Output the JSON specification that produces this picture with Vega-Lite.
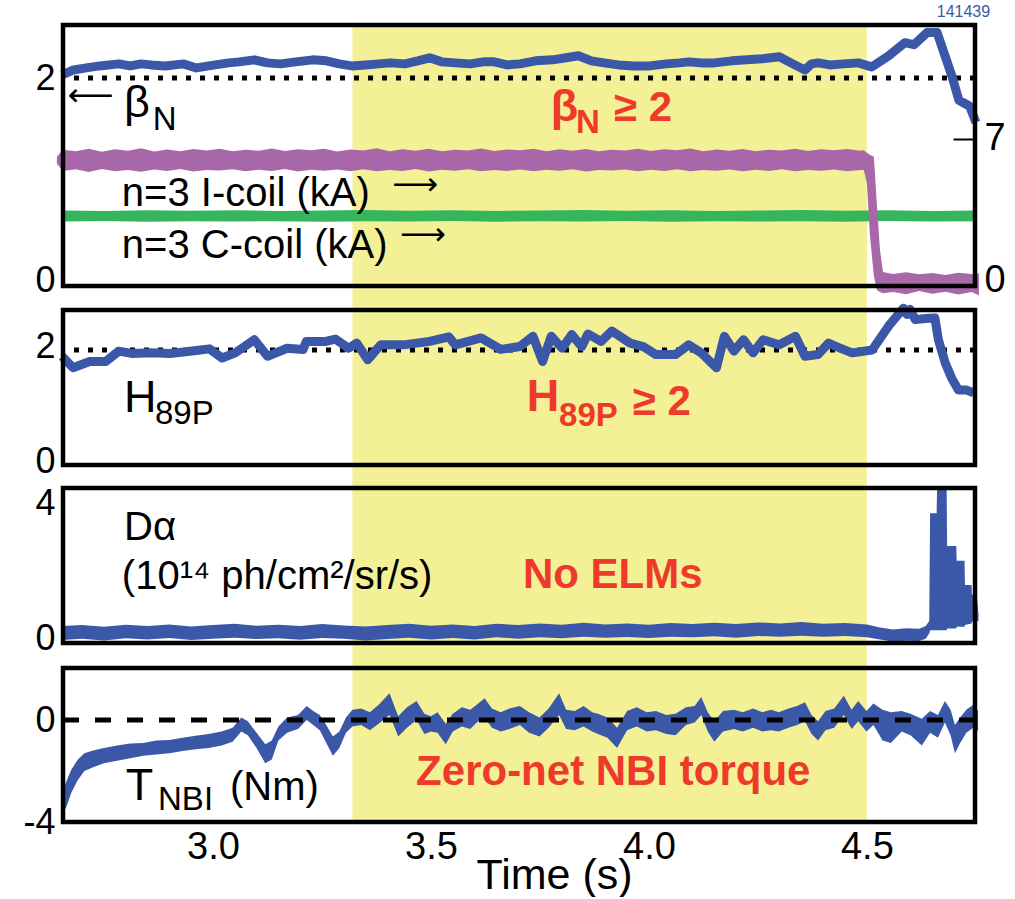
{
"$schema": "https://vega.github.io/schema/vega-lite/v6.json",
"background": "white",
"padding": {"left": 22, "top": 3, "right": 5, "bottom": 0},
"spacing": 0,
"bounds": "flush",
"title": {"text": "141439", "anchor": "end", "fontSize": 16, "font": "Liberation Sans", "fontWeight": "normal", "color": "#3b58a8", "offset": 3, "dx": -15},
"config": {
  "view": {"stroke": null},
  "font": "Liberation Sans",
  "axis": {"domain": false, "ticks": false, "grid": false, "labelFont": "Liberation Sans", "labelFontSize": 36, "labelColor": "black", "labelPadding": 8, "titleFont": "Liberation Sans", "titleFontSize": 43, "titleFontWeight": "normal", "titleColor": "black"}
},
"datasets": {
  "band": [{"a": 3.32, "b": 4.5}],
  "bn": [
    {"t":2.654,"v":2.03},{"t":2.680,"v":2.08},{"t":2.709,"v":2.10},{"t":2.740,"v":2.12},{"t":2.784,"v":2.14},{"t":2.810,"v":2.12},{"t":2.835,"v":2.14},{"t":2.858,"v":2.13},{"t":2.890,"v":2.12},{"t":2.932,"v":2.14},{"t":2.962,"v":2.10},{"t":2.990,"v":2.12},{"t":3.036,"v":2.15},{"t":3.060,"v":2.16},{"t":3.095,"v":2.18},{"t":3.125,"v":2.15},{"t":3.155,"v":2.14},{"t":3.190,"v":2.16},{"t":3.229,"v":2.18},{"t":3.260,"v":2.17},{"t":3.290,"v":2.14},{"t":3.318,"v":2.12},{"t":3.350,"v":2.13},{"t":3.380,"v":2.14},{"t":3.407,"v":2.15},{"t":3.440,"v":2.14},{"t":3.470,"v":2.17},{"t":3.497,"v":2.20},{"t":3.525,"v":2.16},{"t":3.556,"v":2.15},{"t":3.590,"v":2.14},{"t":3.620,"v":2.16},{"t":3.645,"v":2.16},{"t":3.675,"v":2.13},{"t":3.704,"v":2.14},{"t":3.740,"v":2.17},{"t":3.779,"v":2.18},{"t":3.810,"v":2.20},{"t":3.838,"v":2.22},{"t":3.868,"v":2.17},{"t":3.897,"v":2.15},{"t":3.930,"v":2.13},{"t":3.965,"v":2.12},{"t":4.002,"v":2.12},{"t":4.040,"v":2.14},{"t":4.070,"v":2.15},{"t":4.091,"v":2.16},{"t":4.120,"v":2.15},{"t":4.150,"v":2.15},{"t":4.190,"v":2.17},{"t":4.224,"v":2.18},{"t":4.260,"v":2.19},{"t":4.299,"v":2.21},{"t":4.330,"v":2.14},{"t":4.358,"v":2.08},{"t":4.373,"v":2.14},{"t":4.388,"v":2.15},{"t":4.415,"v":2.13},{"t":4.447,"v":2.14},{"t":4.480,"v":2.15},{"t":4.511,"v":2.11},{"t":4.550,"v":2.22},{"t":4.587,"v":2.35},{"t":4.608,"v":2.33},{"t":4.638,"v":2.45},{"t":4.661,"v":2.45},{"t":4.695,"v":2.02},{"t":4.711,"v":1.78},{"t":4.736,"v":1.72},{"t":4.750,"v":1.56}
  ],
  "coil": [
    {"c":"C","t":2.656,"hi":3.44,"lo":2.90},{"c":"C","t":2.75,"hi":3.42,"lo":2.92},{"c":"C","t":2.85,"hi":3.45,"lo":2.89},{"c":"C","t":2.95,"hi":3.43,"lo":2.91},{"c":"C","t":3.05,"hi":3.45,"lo":2.90},{"c":"C","t":3.15,"hi":3.42,"lo":2.91},{"c":"C","t":3.25,"hi":3.44,"lo":2.89},{"c":"C","t":3.35,"hi":3.46,"lo":2.91},{"c":"C","t":3.45,"hi":3.43,"lo":2.90},{"c":"C","t":3.55,"hi":3.45,"lo":2.92},{"c":"C","t":3.65,"hi":3.42,"lo":2.89},{"c":"C","t":3.75,"hi":3.44,"lo":2.91},{"c":"C","t":3.85,"hi":3.46,"lo":2.90},{"c":"C","t":3.95,"hi":3.43,"lo":2.92},{"c":"C","t":4.05,"hi":3.45,"lo":2.89},{"c":"C","t":4.15,"hi":3.42,"lo":2.91},{"c":"C","t":4.25,"hi":3.44,"lo":2.90},{"c":"C","t":4.35,"hi":3.46,"lo":2.91},{"c":"C","t":4.45,"hi":3.43,"lo":2.89},{"c":"C","t":4.55,"hi":3.45,"lo":2.92},{"c":"C","t":4.65,"hi":3.42,"lo":2.90},{"c":"C","t":4.746,"hi":3.44,"lo":2.91},
    {"c":"I","t":2.642,"hi":6.10,"lo":5.75},{"c":"I","t":2.656,"hi":6.45,"lo":5.40},{"c":"I","t":2.685,"hi":6.38,"lo":5.48},{"c":"I","t":2.715,"hi":6.50,"lo":5.35},{"c":"I","t":2.745,"hi":6.35,"lo":5.50},{"c":"I","t":2.775,"hi":6.47,"lo":5.38},{"c":"I","t":2.805,"hi":6.40,"lo":5.45},{"c":"I","t":2.835,"hi":6.52,"lo":5.36},{"c":"I","t":2.865,"hi":6.36,"lo":5.47},{"c":"I","t":2.895,"hi":6.46,"lo":5.40},{"c":"I","t":2.925,"hi":6.38,"lo":5.50},{"c":"I","t":2.955,"hi":6.49,"lo":5.37},{"c":"I","t":2.985,"hi":6.41,"lo":5.45},{"c":"I","t":3.015,"hi":6.50,"lo":5.42},{"c":"I","t":3.045,"hi":6.37,"lo":5.48},{"c":"I","t":3.075,"hi":6.45,"lo":5.38},{"c":"I","t":3.105,"hi":6.40,"lo":5.46},{"c":"I","t":3.135,"hi":6.51,"lo":5.40},{"c":"I","t":3.165,"hi":6.39,"lo":5.49},{"c":"I","t":3.195,"hi":6.47,"lo":5.37},{"c":"I","t":3.225,"hi":6.42,"lo":5.46},{"c":"I","t":3.255,"hi":6.50,"lo":5.41},{"c":"I","t":3.285,"hi":6.36,"lo":5.47},{"c":"I","t":3.315,"hi":6.46,"lo":5.39},{"c":"I","t":3.345,"hi":6.41,"lo":5.48},{"c":"I","t":3.375,"hi":6.52,"lo":5.38},{"c":"I","t":3.405,"hi":6.38,"lo":5.45},{"c":"I","t":3.435,"hi":6.47,"lo":5.40},{"c":"I","t":3.465,"hi":6.40,"lo":5.49},{"c":"I","t":3.495,"hi":6.50,"lo":5.37},{"c":"I","t":3.525,"hi":6.37,"lo":5.46},{"c":"I","t":3.555,"hi":6.45,"lo":5.41},{"c":"I","t":3.585,"hi":6.41,"lo":5.48},{"c":"I","t":3.615,"hi":6.51,"lo":5.38},{"c":"I","t":3.645,"hi":6.39,"lo":5.45},{"c":"I","t":3.675,"hi":6.46,"lo":5.40},{"c":"I","t":3.705,"hi":6.42,"lo":5.47},{"c":"I","t":3.735,"hi":6.50,"lo":5.39},{"c":"I","t":3.765,"hi":6.38,"lo":5.46},{"c":"I","t":3.795,"hi":6.47,"lo":5.41},{"c":"I","t":3.825,"hi":6.40,"lo":5.48},{"c":"I","t":3.855,"hi":6.49,"lo":5.37},{"c":"I","t":3.885,"hi":6.37,"lo":5.45},{"c":"I","t":3.915,"hi":6.45,"lo":5.42},{"c":"I","t":3.945,"hi":6.41,"lo":5.47},{"c":"I","t":3.975,"hi":6.50,"lo":5.39},{"c":"I","t":4.005,"hi":6.39,"lo":5.46},{"c":"I","t":4.035,"hi":6.47,"lo":5.40},{"c":"I","t":4.065,"hi":6.42,"lo":5.48},{"c":"I","t":4.095,"hi":6.51,"lo":5.38},{"c":"I","t":4.125,"hi":6.38,"lo":5.45},{"c":"I","t":4.155,"hi":6.46,"lo":5.41},{"c":"I","t":4.185,"hi":6.40,"lo":5.47},{"c":"I","t":4.215,"hi":6.49,"lo":5.39},{"c":"I","t":4.245,"hi":6.37,"lo":5.46},{"c":"I","t":4.275,"hi":6.45,"lo":5.40},{"c":"I","t":4.305,"hi":6.41,"lo":5.48},{"c":"I","t":4.335,"hi":6.50,"lo":5.38},{"c":"I","t":4.365,"hi":6.39,"lo":5.45},{"c":"I","t":4.395,"hi":6.47,"lo":5.41},{"c":"I","t":4.425,"hi":6.42,"lo":5.47},{"c":"I","t":4.455,"hi":6.49,"lo":5.39},{"c":"I","t":4.485,"hi":6.40,"lo":5.45},{"c":"I","t":4.493,"hi":6.42,"lo":5.45},{"c":"I","t":4.500,"hi":6.30,"lo":4.80},{"c":"I","t":4.507,"hi":6.20,"lo":2.20},{"c":"I","t":4.516,"hi":6.10,"lo":0.20},{"c":"I","t":4.523,"hi":3.70,"lo":-0.50},{"c":"I","t":4.530,"hi":1.50,"lo":-0.60},{"c":"I","t":4.537,"hi":0.40,"lo":-0.65},{"c":"I","t":4.560,"hi":0.30,"lo":-0.60},{"c":"I","t":4.590,"hi":0.38,"lo":-0.70},{"c":"I","t":4.620,"hi":0.28,"lo":-0.55},{"c":"I","t":4.650,"hi":0.35,"lo":-0.68},{"c":"I","t":4.680,"hi":0.25,"lo":-0.58},{"c":"I","t":4.710,"hi":0.36,"lo":-0.72},{"c":"I","t":4.740,"hi":0.30,"lo":-0.60},{"c":"I","t":4.757,"hi":0.33,"lo":-0.75}
  ],
  "h89": [
    {"t":2.654,"v":1.89},{"t":2.679,"v":1.69},{"t":2.717,"v":1.80},{"t":2.754,"v":1.80},{"t":2.784,"v":1.98},{"t":2.813,"v":1.94},{"t":2.858,"v":1.95},{"t":2.902,"v":1.94},{"t":2.962,"v":1.99},{"t":2.992,"v":2.02},{"t":3.021,"v":1.86},{"t":3.051,"v":1.95},{"t":3.095,"v":2.18},{"t":3.125,"v":1.89},{"t":3.170,"v":2.03},{"t":3.207,"v":2.01},{"t":3.214,"v":2.15},{"t":3.259,"v":2.15},{"t":3.281,"v":2.19},{"t":3.311,"v":2.03},{"t":3.330,"v":2.12},{"t":3.355,"v":1.83},{"t":3.385,"v":2.09},{"t":3.437,"v":2.09},{"t":3.497,"v":2.15},{"t":3.541,"v":2.23},{"t":3.556,"v":2.09},{"t":3.615,"v":2.21},{"t":3.660,"v":2.01},{"t":3.704,"v":2.06},{"t":3.734,"v":2.24},{"t":3.756,"v":1.80},{"t":3.776,"v":2.24},{"t":3.801,"v":2.03},{"t":3.823,"v":2.27},{"t":3.846,"v":2.06},{"t":3.860,"v":2.28},{"t":3.890,"v":2.15},{"t":3.915,"v":2.33},{"t":3.957,"v":2.12},{"t":3.987,"v":2.06},{"t":4.016,"v":1.92},{"t":4.061,"v":1.92},{"t":4.091,"v":2.09},{"t":4.120,"v":1.95},{"t":4.155,"v":1.69},{"t":4.173,"v":2.24},{"t":4.195,"v":1.98},{"t":4.217,"v":2.18},{"t":4.239,"v":1.95},{"t":4.262,"v":2.18},{"t":4.299,"v":2.09},{"t":4.336,"v":2.24},{"t":4.358,"v":1.89},{"t":4.388,"v":1.92},{"t":4.412,"v":2.12},{"t":4.430,"v":2.06},{"t":4.466,"v":1.95},{"t":4.512,"v":2.00},{"t":4.550,"v":2.42},{"t":4.584,"v":2.73},{"t":4.592,"v":2.62},{"t":4.599,"v":2.71},{"t":4.611,"v":2.53},{"t":4.635,"v":2.55},{"t":4.656,"v":2.56},{"t":4.664,"v":2.18},{"t":4.680,"v":1.77},{"t":4.695,"v":1.50},{"t":4.710,"v":1.30},{"t":4.729,"v":1.30},{"t":4.745,"v":1.25}
  ],
  "da": [
    {"t":2.654,"hi":0.32,"lo":-0.09},{"t":2.70,"hi":0.35,"lo":-0.05},{"t":2.75,"hi":0.30,"lo":-0.10},{"t":2.80,"hi":0.36,"lo":-0.04},{"t":2.85,"hi":0.32,"lo":-0.07},{"t":2.90,"hi":0.37,"lo":-0.03},{"t":2.95,"hi":0.31,"lo":-0.09},{"t":3.00,"hi":0.35,"lo":-0.05},{"t":3.05,"hi":0.39,"lo":-0.02},{"t":3.10,"hi":0.33,"lo":-0.06},{"t":3.15,"hi":0.36,"lo":-0.04},{"t":3.20,"hi":0.32,"lo":-0.08},{"t":3.25,"hi":0.38,"lo":-0.03},{"t":3.30,"hi":0.34,"lo":-0.05},{"t":3.35,"hi":0.31,"lo":-0.10},{"t":3.40,"hi":0.35,"lo":-0.06},{"t":3.45,"hi":0.39,"lo":-0.02},{"t":3.50,"hi":0.33,"lo":-0.07},{"t":3.55,"hi":0.37,"lo":-0.03},{"t":3.60,"hi":0.32,"lo":-0.07},{"t":3.65,"hi":0.39,"lo":-0.01},{"t":3.70,"hi":0.35,"lo":-0.05},{"t":3.75,"hi":0.40,"lo":-0.01},{"t":3.80,"hi":0.36,"lo":-0.04},{"t":3.85,"hi":0.42,"lo":0.01},{"t":3.90,"hi":0.37,"lo":-0.02},{"t":3.95,"hi":0.40,"lo":0.00},{"t":4.00,"hi":0.36,"lo":-0.03},{"t":4.05,"hi":0.41,"lo":0.01},{"t":4.10,"hi":0.38,"lo":-0.01},{"t":4.15,"hi":0.42,"lo":0.02},{"t":4.20,"hi":0.38,"lo":-0.02},{"t":4.25,"hi":0.43,"lo":0.03},{"t":4.30,"hi":0.40,"lo":0.01},{"t":4.35,"hi":0.44,"lo":0.04},{"t":4.40,"hi":0.39,"lo":0.01},{"t":4.45,"hi":0.41,"lo":0.03},{"t":4.50,"hi":0.37,"lo":-0.01},{"t":4.53,"hi":0.28,"lo":-0.07},{"t":4.56,"hi":0.22,"lo":-0.13},{"t":4.59,"hi":0.26,"lo":-0.11},{"t":4.62,"hi":0.24,"lo":-0.12},{"t":4.635,"hi":0.32,"lo":-0.05},{"t":4.643,"hi":0.47,"lo":0.10},{"t":4.645,"hi":3.64,"lo":0.20},{"t":4.660,"hi":3.64,"lo":0.20},{"t":4.661,"hi":4.38,"lo":0.20},{"t":4.683,"hi":4.38,"lo":0.20},{"t":4.684,"hi":2.68,"lo":0.25},{"t":4.705,"hi":2.68,"lo":0.25},{"t":4.706,"hi":2.24,"lo":0.30},{"t":4.724,"hi":2.24,"lo":0.30},{"t":4.725,"hi":1.53,"lo":0.35},{"t":4.740,"hi":1.53,"lo":0.40},{"t":4.741,"hi":1.24,"lo":0.45},{"t":4.752,"hi":1.24,"lo":0.50},{"t":4.756,"hi":0.66,"lo":0.45}
  ],
  "tq": [
    {"t":2.656,"hi":-2.75,"lo":-3.70},{"t":2.665,"hi":-2.35,"lo":-3.35},{"t":2.675,"hi":-1.95,"lo":-2.85},{"t":2.690,"hi":-1.55,"lo":-2.35},{"t":2.705,"hi":-1.30,"lo":-2.00},{"t":2.725,"hi":-1.20,"lo":-1.85},{"t":2.750,"hi":-1.10,"lo":-1.70},{"t":2.780,"hi":-1.00,"lo":-1.60},{"t":2.810,"hi":-0.92,"lo":-1.50},{"t":2.840,"hi":-0.90,"lo":-1.40},{"t":2.870,"hi":-0.80,"lo":-1.35},{"t":2.900,"hi":-0.78,"lo":-1.30},{"t":2.930,"hi":-0.70,"lo":-1.22},{"t":2.960,"hi":-0.62,"lo":-1.15},{"t":2.990,"hi":-0.55,"lo":-1.10},{"t":3.020,"hi":-0.45,"lo":-1.00},{"t":3.045,"hi":-0.30,"lo":-0.85},{"t":3.065,"hi":0.10,"lo":-0.45},{"t":3.080,"hi":-0.05,"lo":-0.60},{"t":3.100,"hi":-0.50,"lo":-1.10},{"t":3.120,"hi":-0.95,"lo":-1.70},{"t":3.135,"hi":-0.80,"lo":-1.55},{"t":3.150,"hi":-0.25,"lo":-0.80},{"t":3.170,"hi":0.10,"lo":-0.50},{"t":3.195,"hi":0.20,"lo":-0.35},{"t":3.215,"hi":0.55,"lo":0.00},{"t":3.230,"hi":0.35,"lo":-0.20},{"t":3.245,"hi":0.20,"lo":-0.40},{"t":3.260,"hi":-0.20,"lo":-0.90},{"t":3.275,"hi":-0.65,"lo":-1.40},{"t":3.290,"hi":-0.45,"lo":-1.10},{"t":3.305,"hi":0.10,"lo":-0.50},
    {"t":3.320,"hi":0.40,"lo":-0.25},{"t":3.340,"hi":0.45,"lo":-0.20},{"t":3.360,"hi":0.30,"lo":-0.40},{"t":3.380,"hi":0.60,"lo":-0.15},{"t":3.405,"hi":1.05,"lo":0.20},{"t":3.425,"hi":0.15,"lo":-0.65},{"t":3.445,"hi":0.50,"lo":-0.30},{"t":3.467,"hi":0.75,"lo":0.00},{"t":3.485,"hi":0.25,"lo":-0.55},{"t":3.500,"hi":0.15,"lo":-0.45},{"t":3.515,"hi":0.30,"lo":-0.50},{"t":3.534,"hi":-0.15,"lo":-0.95},{"t":3.550,"hi":0.25,"lo":-0.45},{"t":3.571,"hi":0.50,"lo":-0.25},{"t":3.590,"hi":0.40,"lo":-0.35},{"t":3.605,"hi":0.60,"lo":-0.10},{"t":3.623,"hi":0.85,"lo":0.10},{"t":3.640,"hi":0.45,"lo":-0.30},{"t":3.660,"hi":0.30,"lo":-0.45},{"t":3.680,"hi":0.45,"lo":-0.35},{"t":3.704,"hi":0.55,"lo":-0.20},{"t":3.725,"hi":0.30,"lo":-0.50},{"t":3.749,"hi":0.10,"lo":-0.65},{"t":3.770,"hi":0.45,"lo":-0.30},{"t":3.794,"hi":1.05,"lo":0.20},{"t":3.810,"hi":0.40,"lo":-0.35},{"t":3.830,"hi":0.35,"lo":-0.40},{"t":3.850,"hi":0.55,"lo":-0.25},{"t":3.870,"hi":0.30,"lo":-0.45},{"t":3.883,"hi":0.25,"lo":-0.55},{"t":3.905,"hi":0.10,"lo":-0.70},{"t":3.927,"hi":-0.30,"lo":-1.10},{"t":3.950,"hi":0.35,"lo":-0.40},{"t":3.972,"hi":0.50,"lo":-0.25},{"t":3.995,"hi":0.30,"lo":-0.45},{"t":4.016,"hi":0.35,"lo":-0.40},{"t":4.040,"hi":0.20,"lo":-0.55},{"t":4.061,"hi":0.25,"lo":-0.60},{"t":4.085,"hi":0.50,"lo":-0.20},{"t":4.105,"hi":0.55,"lo":-0.10},{"t":4.120,"hi":0.90,"lo":0.20},{"t":4.135,"hi":0.30,"lo":-0.45},{"t":4.150,"hi":-0.05,"lo":-0.85},{"t":4.170,"hi":0.35,"lo":-0.45},{"t":4.195,"hi":0.40,"lo":-0.35},{"t":4.215,"hi":0.30,"lo":-0.45},{"t":4.239,"hi":0.45,"lo":-0.30},{"t":4.260,"hi":0.30,"lo":-0.45},{"t":4.280,"hi":0.40,"lo":-0.40},{"t":4.298,"hi":0.30,"lo":-0.45},{"t":4.320,"hi":0.45,"lo":-0.30},{"t":4.340,"hi":0.55,"lo":-0.20},{"t":4.358,"hi":0.70,"lo":-0.05},{"t":4.373,"hi":0.20,"lo":-0.55},{"t":4.388,"hi":-0.05,"lo":-0.80},{"t":4.405,"hi":0.35,"lo":-0.40},{"t":4.425,"hi":0.45,"lo":-0.30},{"t":4.447,"hi":0.95,"lo":0.20},{"t":4.465,"hi":0.40,"lo":-0.35},{"t":4.480,"hi":0.75,"lo":-0.05},{"t":4.499,"hi":0.35,"lo":-0.45},{"t":4.515,"hi":0.65,"lo":-0.20},{"t":4.536,"hi":0.40,"lo":-0.80},{"t":4.555,"hi":0.30,"lo":-0.90},{"t":4.580,"hi":0.35,"lo":-0.45},{"t":4.600,"hi":0.25,"lo":-0.60},{"t":4.626,"hi":0.05,"lo":-1.00},{"t":4.645,"hi":0.35,"lo":-0.50},{"t":4.663,"hi":0.20,"lo":-0.70},{"t":4.679,"hi":0.75,"lo":-0.10},{"t":4.692,"hi":0.40,"lo":-0.60},{"t":4.702,"hi":-0.20,"lo":-1.30},{"t":4.714,"hi":0.10,"lo":-0.90},{"t":4.728,"hi":0.40,"lo":-0.50},{"t":4.744,"hi":0.60,"lo":-0.30},{"t":4.755,"hi":0.35,"lo":-0.43}
  ],
  "notes": [
    {"p":1,"s":"k","t":2.791,"v":0.733,"text":"n=3 I-coil (kA)"},
    {"p":1,"s":"k","t":2.791,"v":0.218,"text":"n=3 C-coil (kA)"},
    {"p":1,"s":"kb","t":2.796,"v":1.614,"text":"β"},
    {"p":1,"s":"ks","t":2.862,"v":1.485,"text":"N"},
    {"p":1,"s":"ar","t":2.667,"v":1.822,"text":"⟵"},
    {"p":1,"s":"ar","t":3.411,"v":0.94,"text":"⟶"},
    {"p":1,"s":"ar","t":3.429,"v":0.446,"text":"⟶"},
    {"p":1,"s":"rb","t":3.775,"v":1.574,"text":"β"},
    {"p":1,"s":"rs","t":3.833,"v":1.455,"text":"N"},
    {"p":1,"s":"r","t":3.920,"v":1.574,"text":"≥ 2"},
    {"p":2,"s":"kb","t":2.796,"v":0.917,"text":"H"},
    {"p":2,"s":"ks","t":2.867,"v":0.707,"text":"89P"},
    {"p":2,"s":"rb","t":3.720,"v":0.934,"text":"H"},
    {"p":2,"s":"rs","t":3.794,"v":0.672,"text":"89P"},
    {"p":2,"s":"r","t":3.963,"v":0.865,"text":"≥ 2"},
    {"p":3,"s":"k","t":2.796,"v":2.85,"text":"Dα"},
    {"p":3,"s":"k","t":2.791,"v":1.41,"text":"(10¹⁴ ph/cm²/sr/s)"},
    {"p":3,"s":"r","t":3.711,"v":1.44,"text":"No ELMs"},
    {"p":4,"s":"kb","t":2.800,"v":-3.137,"text":"T"},
    {"p":4,"s":"ks","t":2.874,"v":-3.529,"text":"NBI"},
    {"p":4,"s":"k","t":3.039,"v":-3.137,"text":"(Nm)"},
    {"p":4,"s":"r","t":3.466,"v":-2.549,"text":"Zero-net NBI torque"}
  ]
},
"vconcat": [
  {
    "width": 912, "height": 273,
    "resolve": {"scale": {"y": "independent"}, "axis": {"y": "independent"}},
    "layer": [
      {"layer": [
        {"data": {"name": "band"}, "mark": {"type": "rect", "color": "#f3f096"},
         "encoding": {"x": {"field": "a", "type": "quantitative", "scale": {"domain": [2.656, 4.748], "nice": false, "zero": false}, "axis": null}, "x2": {"field": "b"}}},
        {"data": {"values": [{}]}, "mark": {"type": "rule", "color": "black", "strokeWidth": 5, "strokeDash": [5, 9]},
         "encoding": {"y": {"datum": 2, "type": "quantitative", "scale": {"domain": [-0.178, 2.525], "nice": false, "zero": false}, "axis": {"orient": "left", "values": [0, 2], "title": null}}}},
        {"data": {"name": "bn"}, "mark": {"type": "line", "color": "#3b58a8", "strokeWidth": 9, "strokeJoin": "round"},
         "encoding": {"x": {"field": "t", "type": "quantitative", "scale": {"domain": [2.656, 4.748], "nice": false, "zero": false}, "axis": null},
                      "y": {"field": "v", "type": "quantitative", "scale": {"domain": [-0.178, 2.525], "nice": false, "zero": false}, "axis": {"orient": "left", "values": [0, 2], "title": null}}}}
      ]},
      {"data": {"name": "coil"}, "layer": [
        {"transform": [{"filter": "datum.c == 'C'"}], "mark": {"type": "area", "color": "#35b55c", "opacity": 1},
         "encoding": {"x": {"field": "t", "type": "quantitative", "scale": {"domain": [2.656, 4.748], "nice": false, "zero": false}, "axis": null},
                      "y": {"field": "hi", "type": "quantitative", "scale": {"domain": [-0.891, 12.624], "nice": false, "zero": false}, "axis": {"orient": "right", "values": [0, 7], "title": null, "ticks": true, "tickSize": -22, "tickWidth": 2, "tickColor": "black", "labelPadding": 31, "labelFontSize": 38}},
                      "y2": {"field": "lo"}}},
        {"transform": [{"filter": "datum.c == 'I'"}], "mark": {"type": "area", "color": "#a867a8", "opacity": 1},
         "encoding": {"x": {"field": "t", "type": "quantitative", "scale": {"domain": [2.656, 4.748], "nice": false, "zero": false}, "axis": null},
                      "y": {"field": "hi", "type": "quantitative", "scale": {"domain": [-0.891, 12.624], "nice": false, "zero": false}, "axis": {"orient": "right", "values": [0, 7], "title": null, "ticks": true, "tickSize": -22, "tickWidth": 2, "tickColor": "black", "labelPadding": 31, "labelFontSize": 38}},
                      "y2": {"field": "lo"}}}
      ]},
      {"data": {"values": [{}]}, "mark": {"type": "rect", "fill": "transparent", "stroke": "black", "strokeWidth": 4.5},
       "encoding": {"x": {"datum": 2.656, "type": "quantitative", "scale": {"domain": [2.656, 4.748], "nice": false, "zero": false}, "axis": null}, "x2": {"datum": 4.748},
                    "y": {"datum": -0.059, "type": "quantitative", "scale": {"domain": [-0.178, 2.525], "nice": false, "zero": false}, "axis": null}, "y2": {"datum": 2.525}}},
      {"data": {"name": "notes"},
       "encoding": {"x": {"field": "t", "type": "quantitative", "scale": {"domain": [2.656, 4.748], "nice": false, "zero": false}, "axis": null},
                    "y": {"field": "v", "type": "quantitative", "scale": {"domain": [-0.178, 2.525], "nice": false, "zero": false}, "axis": null},
                    "text": {"field": "text"}},
       "layer": [
        {"transform": [{"filter": "datum.p == 1 && datum.s == 'k'"}], "mark": {"type": "text", "align": "left", "baseline": "alphabetic", "color": "black", "fontSize": 40}},
        {"transform": [{"filter": "datum.p == 1 && datum.s == 'kb'"}], "mark": {"type": "text", "align": "left", "baseline": "alphabetic", "color": "black", "fontSize": 45}},
        {"transform": [{"filter": "datum.p == 1 && datum.s == 'ks'"}], "mark": {"type": "text", "align": "left", "baseline": "alphabetic", "color": "black", "fontSize": 33}},
        {"transform": [{"filter": "datum.p == 1 && datum.s == 'r'"}], "mark": {"type": "text", "align": "left", "baseline": "alphabetic", "color": "#ee3a2a", "fontWeight": "bold", "fontSize": 42}},
        {"transform": [{"filter": "datum.p == 1 && datum.s == 'rb'"}], "mark": {"type": "text", "align": "left", "baseline": "alphabetic", "color": "#ee3a2a", "fontWeight": "bold", "fontSize": 45}},
        {"transform": [{"filter": "datum.p == 1 && datum.s == 'rs'"}], "mark": {"type": "text", "align": "left", "baseline": "alphabetic", "color": "#ee3a2a", "fontWeight": "bold", "fontSize": 33}},
        {"transform": [{"filter": "datum.p == 1 && datum.s == 'ar'"}], "mark": {"type": "text", "align": "left", "baseline": "middle", "color": "black", "font": "DejaVu Sans", "fontSize": 32}}
      ]}
    ]
  },
  {
    "width": 912, "height": 179,
    "layer": [
      {"data": {"name": "band"}, "mark": {"type": "rect", "color": "#f3f096"},
       "encoding": {"x": {"field": "a", "type": "quantitative", "scale": {"domain": [2.656, 4.748], "nice": false, "zero": false}, "axis": null}, "x2": {"field": "b"}}},
      {"data": {"values": [{}]}, "mark": {"type": "rule", "color": "black", "strokeWidth": 5, "strokeDash": [5, 9]},
       "encoding": {"y": {"datum": 2, "type": "quantitative", "scale": {"domain": [-0.218, 2.908], "nice": false, "zero": false}, "axis": {"values": [0, 2], "title": null, "labelOffset": -3}}}},
      {"data": {"name": "h89"}, "mark": {"type": "line", "color": "#3b58a8", "strokeWidth": 9, "strokeJoin": "round"},
       "encoding": {"x": {"field": "t", "type": "quantitative", "scale": {"domain": [2.656, 4.748], "nice": false, "zero": false}, "axis": null},
                    "y": {"field": "v", "type": "quantitative", "scale": {"domain": [-0.218, 2.908], "nice": false, "zero": false}, "axis": {"values": [0, 2], "title": null, "labelOffset": -3}}}},
      {"data": {"values": [{}]}, "mark": {"type": "rect", "fill": "transparent", "stroke": "black", "strokeWidth": 4.5},
       "encoding": {"x": {"datum": 2.656, "type": "quantitative", "scale": {"domain": [2.656, 4.748], "nice": false, "zero": false}, "axis": null}, "x2": {"datum": 4.748},
                    "y": {"datum": -0.01, "type": "quantitative", "scale": {"domain": [-0.218, 2.908], "nice": false, "zero": false}, "axis": {"values": [0, 2], "title": null, "labelOffset": -3}}, "y2": {"datum": 2.70}}},
      {"data": {"name": "notes"},
       "encoding": {"x": {"field": "t", "type": "quantitative", "scale": {"domain": [2.656, 4.748], "nice": false, "zero": false}, "axis": null},
                    "y": {"field": "v", "type": "quantitative", "scale": {"domain": [-0.218, 2.908], "nice": false, "zero": false}, "axis": {"values": [0, 2], "title": null, "labelOffset": -3}},
                    "text": {"field": "text"}},
       "layer": [
        {"transform": [{"filter": "datum.p == 2 && datum.s == 'kb'"}], "mark": {"type": "text", "align": "left", "baseline": "alphabetic", "color": "black", "fontSize": 45}},
        {"transform": [{"filter": "datum.p == 2 && datum.s == 'ks'"}], "mark": {"type": "text", "align": "left", "baseline": "alphabetic", "color": "black", "fontSize": 33}},
        {"transform": [{"filter": "datum.p == 2 && datum.s == 'r'"}], "mark": {"type": "text", "align": "left", "baseline": "alphabetic", "color": "#ee3a2a", "fontWeight": "bold", "fontSize": 42}},
        {"transform": [{"filter": "datum.p == 2 && datum.s == 'rb'"}], "mark": {"type": "text", "align": "left", "baseline": "alphabetic", "color": "#ee3a2a", "fontWeight": "bold", "fontSize": 45}},
        {"transform": [{"filter": "datum.p == 2 && datum.s == 'rs'"}], "mark": {"type": "text", "align": "left", "baseline": "alphabetic", "color": "#ee3a2a", "fontWeight": "bold", "fontSize": 33}}
      ]}
    ]
  },
  {
    "width": 912, "height": 179,
    "layer": [
      {"data": {"name": "band"}, "mark": {"type": "rect", "color": "#f3f096"},
       "encoding": {"x": {"field": "a", "type": "quantitative", "scale": {"domain": [2.656, 4.748], "nice": false, "zero": false}, "axis": null}, "x2": {"field": "b"}}},
      {"data": {"name": "da"}, "mark": {"type": "area", "color": "#3b58a8", "opacity": 1},
       "encoding": {"x": {"field": "t", "type": "quantitative", "scale": {"domain": [2.656, 4.748], "nice": false, "zero": false}, "axis": null},
                    "y": {"field": "hi", "type": "quantitative", "scale": {"domain": [-0.559, 4.706], "nice": false, "zero": false}, "axis": {"values": [0, 4], "title": null, "labelOffset": 2}},
                    "y2": {"field": "lo"}}},
      {"data": {"values": [{}]}, "mark": {"type": "rect", "fill": "transparent", "stroke": "black", "strokeWidth": 4.5},
       "encoding": {"x": {"datum": 2.656, "type": "quantitative", "scale": {"domain": [2.656, 4.748], "nice": false, "zero": false}, "axis": null}, "x2": {"datum": 4.748},
                    "y": {"datum": -0.176, "type": "quantitative", "scale": {"domain": [-0.559, 4.706], "nice": false, "zero": false}, "axis": {"values": [0, 4], "title": null, "labelOffset": 2}}, "y2": {"datum": 4.382}}},
      {"data": {"name": "notes"},
       "encoding": {"x": {"field": "t", "type": "quantitative", "scale": {"domain": [2.656, 4.748], "nice": false, "zero": false}, "axis": null},
                    "y": {"field": "v", "type": "quantitative", "scale": {"domain": [-0.559, 4.706], "nice": false, "zero": false}, "axis": {"values": [0, 4], "title": null, "labelOffset": 2}},
                    "text": {"field": "text"}},
       "layer": [
        {"transform": [{"filter": "datum.p == 3 && datum.s == 'k'"}], "mark": {"type": "text", "align": "left", "baseline": "alphabetic", "color": "black", "fontSize": 40}},
        {"transform": [{"filter": "datum.p == 3 && datum.s == 'r'"}], "mark": {"type": "text", "align": "left", "baseline": "alphabetic", "color": "#ee3a2a", "fontWeight": "bold", "fontSize": 42}}
      ]}
    ]
  },
  {
    "width": 912, "height": 166,
    "layer": [
      {"data": {"name": "band"}, "mark": {"type": "rect", "color": "#f3f096"},
       "encoding": {"x": {"field": "a", "type": "quantitative", "scale": {"domain": [2.656, 4.748], "nice": false, "zero": false}, "axis": {"values": [3.0, 3.5, 4.0, 4.5], "format": ".1f", "title": "Time (s)", "labelFontSize": 38, "labelPadding": 6, "labelFlush": false, "titleX": 491, "titleY": 66, "titleAlign": "center", "titleBaseline": "alphabetic"}}, "x2": {"field": "b"}}},
      {"data": {"name": "tq"}, "mark": {"type": "area", "color": "#3b58a8", "opacity": 1},
       "encoding": {"x": {"field": "t", "type": "quantitative", "scale": {"domain": [2.656, 4.748], "nice": false, "zero": false}, "axis": {"values": [3.0, 3.5, 4.0, 4.5], "format": ".1f", "title": "Time (s)", "labelFontSize": 38, "labelPadding": 6, "labelFlush": false, "titleX": 491, "titleY": 66, "titleAlign": "center", "titleBaseline": "alphabetic"}},
                    "y": {"field": "hi", "type": "quantitative", "scale": {"domain": [-4.0, 2.51], "nice": false, "zero": false}, "axis": {"values": [-4, 0], "title": null, "labelExpr": "replace(datum.label, '−', '-')"}},
                    "y2": {"field": "lo"}}},
      {"data": {"values": [{}]}, "mark": {"type": "rule", "color": "black", "strokeWidth": 5, "strokeDash": [16, 16]},
       "encoding": {"y": {"datum": 0, "type": "quantitative", "scale": {"domain": [-4.0, 2.51], "nice": false, "zero": false}, "axis": {"values": [-4, 0], "title": null, "labelExpr": "replace(datum.label, '−', '-')"}}}},
      {"data": {"values": [{}]}, "mark": {"type": "rect", "fill": "transparent", "stroke": "black", "strokeWidth": 4.5},
       "encoding": {"x": {"datum": 2.656, "type": "quantitative", "scale": {"domain": [2.656, 4.748], "nice": false, "zero": false}, "axis": {"values": [3.0, 3.5, 4.0, 4.5], "format": ".1f", "title": "Time (s)", "labelFontSize": 38, "labelPadding": 6, "labelFlush": false, "titleX": 491, "titleY": 66, "titleAlign": "center", "titleBaseline": "alphabetic"}}, "x2": {"datum": 4.748},
                    "y": {"datum": -4.0, "type": "quantitative", "scale": {"domain": [-4.0, 2.51], "nice": false, "zero": false}, "axis": {"values": [-4, 0], "title": null, "labelExpr": "replace(datum.label, '−', '-')"}}, "y2": {"datum": 2.039}}},
      {"data": {"name": "notes"},
       "encoding": {"x": {"field": "t", "type": "quantitative", "scale": {"domain": [2.656, 4.748], "nice": false, "zero": false}, "axis": {"values": [3.0, 3.5, 4.0, 4.5], "format": ".1f", "title": "Time (s)", "labelFontSize": 38, "labelPadding": 6, "labelFlush": false, "titleX": 491, "titleY": 66, "titleAlign": "center", "titleBaseline": "alphabetic"}},
                    "y": {"field": "v", "type": "quantitative", "scale": {"domain": [-4.0, 2.51], "nice": false, "zero": false}, "axis": {"values": [-4, 0], "title": null, "labelExpr": "replace(datum.label, '−', '-')"}},
                    "text": {"field": "text"}},
       "layer": [
        {"transform": [{"filter": "datum.p == 4 && datum.s == 'k'"}], "mark": {"type": "text", "align": "left", "baseline": "alphabetic", "color": "black", "fontSize": 40}},
        {"transform": [{"filter": "datum.p == 4 && datum.s == 'kb'"}], "mark": {"type": "text", "align": "left", "baseline": "alphabetic", "color": "black", "fontSize": 45}},
        {"transform": [{"filter": "datum.p == 4 && datum.s == 'ks'"}], "mark": {"type": "text", "align": "left", "baseline": "alphabetic", "color": "black", "fontSize": 33}},
        {"transform": [{"filter": "datum.p == 4 && datum.s == 'r'"}], "mark": {"type": "text", "align": "left", "baseline": "alphabetic", "color": "#ee3a2a", "fontWeight": "bold", "fontSize": 42}}
      ]}
    ]
  }
]
}
